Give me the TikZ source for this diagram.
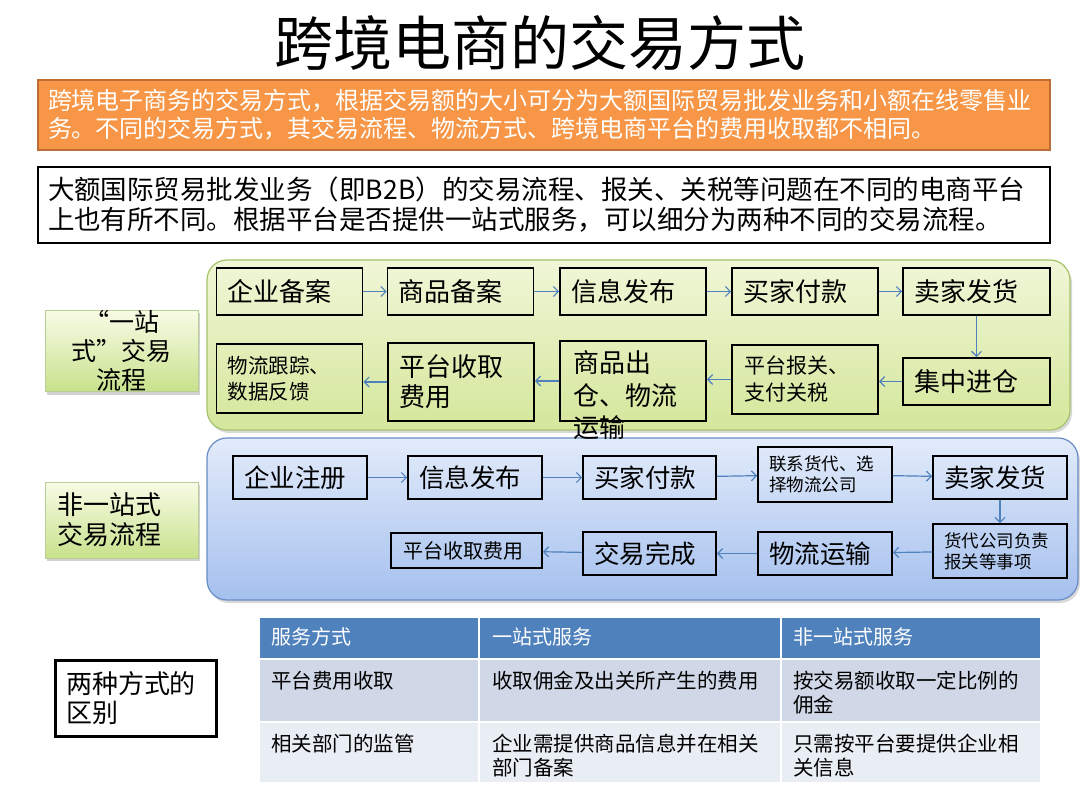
\documentclass[tikz,border=0pt]{standalone}
\usepackage{fontspec}
\setmainfont{Noto Sans CJK SC}
\usetikzlibrary{arrows.meta,shadows}
\definecolor{arrowc}{RGB}{79,129,189}
\definecolor{orangef}{RGB}{247,150,70}
\definecolor{orangeb}{RGB}{190,110,50}
\definecolor{greenbd}{RGB}{165,195,105}
\definecolor{greentop}{RGB}{240,246,215}
\definecolor{greenbot}{RGB}{212,231,155}
\definecolor{labtop}{RGB}{248,251,230}
\definecolor{labbot}{RGB}{200,226,140}
\definecolor{labbd}{RGB}{185,205,150}
\definecolor{bluebd}{RGB}{105,140,198}
\definecolor{bluetop}{RGB}{226,235,250}
\definecolor{bluebot}{RGB}{165,192,238}
\definecolor{hdrc}{RGB}{79,129,189}
\definecolor{row1c}{RGB}{208,216,232}
\definecolor{row2c}{RGB}{233,237,244}
\newcommand\fsz[2]{\fontsize{#1}{#2}\selectfont}
\tikzset{
  bx/.style={draw=black, line width=1.6pt, inner ysep=0pt, align=left},
  arr/.style={draw=arrowc, line width=1.2pt, -{Straight Barb[length=5pt,width=10pt]}},
  region/.style={rounded corners=20pt, line width=1.2pt, inner sep=0pt,
    drop shadow={opacity=0.3, shadow xshift=2pt, shadow yshift=-3pt}},
  labbox/.style={draw=labbd, line width=0.8pt, top color=labtop, bottom color=labbot,
    inner ysep=0pt, drop shadow={opacity=0.35, shadow xshift=2pt, shadow yshift=-3pt}},
  celltext/.style={anchor=west, inner sep=0pt, align=left, font=\fsz{20.5}{24}}
}
\begin{document}
\begin{tikzpicture}[x=1pt,y=-1pt]
\fill[white] (0,0) rectangle (1080,810);
\useasboundingbox (0,0) rectangle (1080,810);

% title
\node[inner sep=0pt, font=\fsz{59}{64}] (T) at (540,43) {跨境电商的交易方式};

% orange box
\node[fill=orangef, draw=orangeb, line width=1.5pt, text width=992pt, inner xsep=10pt,
  inner ysep=0pt, minimum height=70pt, align=left, text=white, font=\fsz{24}{28}] (O) at (544,115)
  {跨境电子商务的交易方式，根据交易额的大小可分为大额国际贸易批发业务和小额在线零售业\\务。不同的交易方式，其交易流程、物流方式、跨境电商平台的费用收取都不相同。};

% B2B box
\node[draw=black, fill=white, line width=1.8pt, text width=992pt, inner xsep=10pt,
  inner ysep=0pt, minimum height=76pt, align=left, font=\fsz{26.5}{30}] (P) at (544,205)
  {大额国际贸易批发业务（即B2B）的交易流程、报关、关税等问题在不同的电商平台\\上也有所不同。根据平台是否提供一站式服务，可以细分为两种不同的交易流程。};

% regions
\node[region, draw=greenbd, top color=greentop, bottom color=greenbot,
  minimum width=863pt, minimum height=170pt] (GR) at (638.5,345) {};
\node[region, draw=bluebd, top color=bluetop, bottom color=bluebot,
  minimum width=871pt, minimum height=162pt] (BR) at (642.5,519) {};

% left labels
\node[labbox, minimum width=153pt, minimum height=78pt, align=center, font=\fsz{25}{29}] (L1)
  at (121.5,351) {“一站\\式”交易\\流程};
\node[labbox, text width=129pt, inner xsep=12pt, minimum height=76pt, align=left, font=\fsz{26}{30}] (L2)
  at (121.5,520) {非一站式\\交易流程};

% one-stop flow, row 1
\node[bx, minimum height=47pt, text width=124pt, inner xsep=11pt, font=\fsz{26}{31}] (g1) at (289.5,291.5) {企业备案};
\node[bx, minimum height=47pt, text width=124pt, inner xsep=11pt, font=\fsz{26}{31}] (g2) at (460.5,291.5) {商品备案};
\node[bx, minimum height=47pt, text width=124pt, inner xsep=11pt, font=\fsz{26}{31}] (g3) at (633,291.5) {信息发布};
\node[bx, minimum height=47pt, text width=124pt, inner xsep=11pt, font=\fsz{26}{31}] (g4) at (805,291.5) {买家付款};
\node[bx, minimum height=47pt, text width=125pt, inner xsep=11pt, font=\fsz{26}{31}] (g5) at (976.5,291.5) {卖家发货};
% row 2
\node[bx, minimum height=47pt, text width=125pt, inner xsep=11pt, font=\fsz{26}{31}] (g6) at (976.5,381.5) {集中进仓};
\node[bx, minimum height=69pt, text width=122pt, inner xsep=12pt, font=\fsz{21}{27}] (g7) at (805,379.5) {平台报关、\\支付关税};
\node[bx, minimum height=80pt, minimum width=146pt] (g8) at (633,381) {};
\node[anchor=west, inner sep=0pt, align=left, font=\fsz{26}{32.5}] (g8t) at (573,395.5) {商品出\\仓、物流\\运输};
\node[bx, minimum height=78pt, text width=124pt, inner xsep=11pt, font=\fsz{26}{30}] (g9) at (461,382) {平台收取\\费用};
\node[bx, minimum height=69pt, text width=124pt, inner xsep=11pt, font=\fsz{20.5}{26}] (g10) at (289.5,378.5) {物流跟踪、\\数据反馈};

\draw[arr] (g1.east) -- (g2.west);
\draw[arr] (g2.east) -- (g3.west);
\draw[arr] (g3.east) -- (g4.west);
\draw[arr] (g4.east) -- (g5.west);
\draw[arr] (g5.south) -- (g6.north);
\draw[arr] (g6.west) -- (g6.west -| g7.east);
\draw[arr] (g7.west) -- (g7.west -| g8.east);
\draw[arr] (g8.west) -- (g8.west -| g9.east);
\draw[arr] (g9.west) -- (g9.west -| g10.east);

% non one-stop flow
\node[bx, minimum height=43pt, text width=112pt, inner xsep=11pt, font=\fsz{25.5}{30}] (b1) at (300,477.5) {企业注册};
\node[bx, minimum height=43pt, text width=112pt, inner xsep=11pt, font=\fsz{25.5}{30}] (b2) at (475,477.5) {信息发布};
\node[bx, minimum height=43pt, text width=111pt, inner xsep=11pt, font=\fsz{25.5}{30}] (b3) at (649.5,477.5) {买家付款};
\node[bx, minimum height=55pt, text width=112pt, inner xsep=11pt, font=\fsz{17.5}{21}] (b4) at (825,474.5) {联系货代、选\\择物流公司};
\node[bx, minimum height=43pt, text width=112pt, inner xsep=11pt, font=\fsz{25.5}{30}] (b5) at (1000,477.5) {卖家发货};
\node[bx, minimum height=54pt, text width=112pt, inner xsep=11pt, font=\fsz{17.5}{21}] (b7) at (1000,551) {货代公司负责\\报关等事项};
\node[bx, minimum height=43pt, text width=112pt, inner xsep=11pt, font=\fsz{25.5}{30}] (b8) at (825,553.5) {物流运输};
\node[bx, minimum height=43pt, text width=111pt, inner xsep=11pt, font=\fsz{25.5}{30}] (b9) at (649.5,553.5) {交易完成};
\node[bx, minimum height=35pt, text width=127pt, inner xsep=12pt, font=\fsz{20}{24}] (b10) at (466.5,550.5) {平台收取费用};

\draw[arr] (b1) -- (b2);
\draw[arr] (b2) -- (b3);
\draw[arr] (b3) -- (b4);
\draw[arr] (b4) -- (b5);
\draw[arr] (b5) -- (b7);
\draw[arr] (b7) -- (b8);
\draw[arr] (b8) -- (b9);
\draw[arr] (b9) -- (b10);

% difference label
\node[draw=black, line width=3pt, fill=white, text width=139pt, inner xsep=11pt, inner ysep=0pt,
  minimum height=76pt, align=left, font=\fsz{26}{29}] (D) at (135.5,698) {两种方式的\\区别};

% table
\fill[hdrc] (260,618) rectangle (478,658);
\fill[hdrc] (480,618) rectangle (780,658);
\fill[hdrc] (782,618) rectangle (1040,658);
\fill[row1c] (260,660) rectangle (478,721);
\fill[row1c] (480,660) rectangle (780,721);
\fill[row1c] (782,660) rectangle (1040,721);
\fill[row2c] (260,723) rectangle (478,782);
\fill[row2c] (480,723) rectangle (780,782);
\fill[row2c] (782,723) rectangle (1040,782);

\node[celltext, text=white, font=\fsz{20}{24}] (h1) at (271,637) {服务方式};
\node[celltext, text=white, font=\fsz{20}{24}] (h2) at (492,637) {一站式服务};
\node[celltext, text=white, font=\fsz{20}{24}] (h3) at (793,637) {非一站式服务};
\node[celltext] (r11) at (271,681) {平台费用收取};
\node[celltext] (r12) at (492,681) {收取佣金及出关所产生的费用};
\node[celltext] (r13) at (793,693) {按交易额收取一定比例的\\佣金};
\node[celltext] (r21) at (271,744) {相关部门的监管};
\node[celltext] (r22) at (492,756) {企业需提供商品信息并在相关\\部门备案};
\node[celltext] (r23) at (793,756) {只需按平台要提供企业相\\关信息};
\end{tikzpicture}
\end{document}
